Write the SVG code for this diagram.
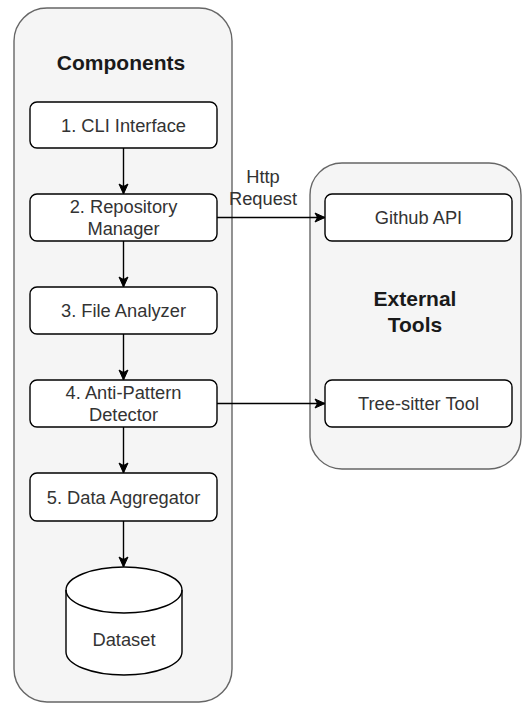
<svg xmlns="http://www.w3.org/2000/svg" width="522" height="704" viewBox="0 0 522 704">
<style>
.container{fill:#f5f5f5;stroke:#666666;stroke-width:1.4}
.box{fill:#ffffff;stroke:#000000;stroke-width:1.4}
.t{font-family:"Liberation Sans",Arial,Helvetica,sans-serif;font-size:18.3px;fill:#333333;text-anchor:middle}
.title{font-family:"Liberation Sans",Arial,Helvetica,sans-serif;font-size:21px;font-weight:bold;fill:#1a1a1a;text-anchor:middle}
.edge{fill:none;stroke:#000000;stroke-width:1.4}
</style>
<defs>
<marker id="arrow" markerUnits="userSpaceOnUse" markerWidth="12" markerHeight="12" viewBox="0 0 12 12" refX="11" refY="6" orient="auto">
<path d="M1,1.5 L11,6 L1,10.5 L3.5,6 Z" fill="#000000" stroke="#000000" stroke-width="1"/>
</marker>
</defs>
<rect width="522" height="704" fill="#ffffff"/>
<g id="components-group">
<rect class="container" x="14" y="8" width="218" height="694" rx="33" ry="33"/>
<text class="title" x="121" y="70">Components</text>
</g>
<g id="external-tools-group">
<rect class="container" x="310" y="163" width="211" height="306" rx="32" ry="32"/>
<text class="title" x="415" y="306">External</text>
<text class="title" x="415" y="331.5">Tools</text>
</g>
<g id="edges">
<line class="edge" x1="123.5" y1="148" x2="123.5" y2="194" marker-end="url(#arrow)"/>
<line class="edge" x1="123.5" y1="241" x2="123.5" y2="287" marker-end="url(#arrow)"/>
<line class="edge" x1="123.5" y1="334" x2="123.5" y2="380" marker-end="url(#arrow)"/>
<line class="edge" x1="123.5" y1="427" x2="123.5" y2="473" marker-end="url(#arrow)"/>
<line class="edge" x1="123.5" y1="521" x2="123.5" y2="567" marker-end="url(#arrow)"/>
<line class="edge" x1="217" y1="217.5" x2="325" y2="217.5" marker-end="url(#arrow)"/>
<line class="edge" x1="217" y1="403.5" x2="325" y2="403.5" marker-end="url(#arrow)"/>
<text class="t" x="263" y="182.5">Http</text>
<text class="t" x="263" y="205">Request</text>
</g>
<g id="cli-interface">
<rect class="box" x="30" y="102" width="187" height="46" rx="7" ry="7"/>
<text class="t" x="123.5" y="131.5">1. CLI Interface</text>
</g>
<g id="repository-manager">
<rect class="box" x="30" y="194" width="187" height="47" rx="7" ry="7"/>
<text class="t" x="123.5" y="212.9">2. Repository</text>
<text class="t" x="123.5" y="235.4">Manager</text>
</g>
<g id="file-analyzer">
<rect class="box" x="30" y="287" width="187" height="47" rx="7" ry="7"/>
<text class="t" x="123.5" y="317">3. File Analyzer</text>
</g>
<g id="anti-pattern-detector">
<rect class="box" x="30" y="380" width="187" height="47" rx="7" ry="7"/>
<text class="t" x="123.5" y="398.9">4. Anti-Pattern</text>
<text class="t" x="123.5" y="421.4">Detector</text>
</g>
<g id="data-aggregator">
<rect class="box" x="30" y="473" width="187" height="48" rx="7" ry="7"/>
<text class="t" x="123.5" y="503.5">5. Data Aggregator</text>
</g>
<g id="dataset">
<path class="box" d="M66,590 A58,23 0 0 1 182,590 L182,652 A58,23 0 0 1 66,652 Z"/>
<path class="edge" d="M66,590 A58,23 0 0 0 182,590"/>
<text class="t" x="124" y="646">Dataset</text>
</g>
<g id="github-api">
<rect class="box" x="325" y="194" width="187" height="47" rx="7" ry="7"/>
<text class="t" x="418.5" y="224">Github API</text>
</g>
<g id="tree-sitter-tool">
<rect class="box" x="325" y="380" width="187" height="47" rx="7" ry="7"/>
<text class="t" x="418.5" y="409.5">Tree-sitter Tool</text>
</g>
</svg>
